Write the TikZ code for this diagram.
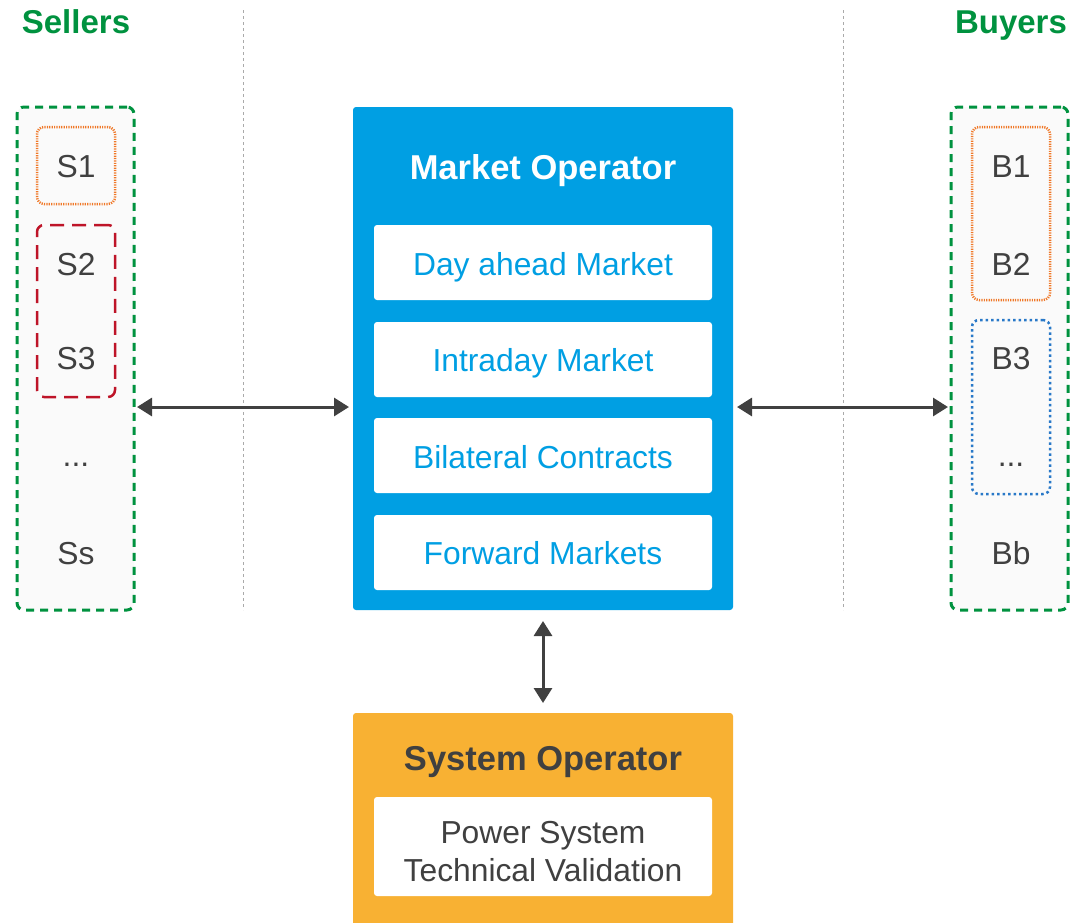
\documentclass[tikz,border=0pt]{standalone}
\usepackage{fontspec}
\setmainfont{Liberation Sans}
\usetikzlibrary{arrows.meta}
\definecolor{mogreen}{RGB}{0,146,63}
\definecolor{moblue}{RGB}{0,159,227}
\definecolor{soorange}{RGB}{248,177,51}
\definecolor{txtgray}{RGB}{64,64,64}
\definecolor{dotorange}{RGB}{240,120,40}
\definecolor{dashred}{RGB}{190,20,40}
\definecolor{dotblue}{RGB}{40,120,200}
\definecolor{sepgray}{RGB}{170,170,170}
\definecolor{colfill}{RGB}{250,250,250}
\begin{document}
\begin{tikzpicture}[x=1pt,y=-1pt,
  colbox/.style={draw=mogreen, line width=3pt, dash pattern=on 8pt off 6pt, rounded corners=7pt, fill=colfill, minimum width=117pt, minimum height=503pt, inner sep=0pt, outer sep=0pt},
  orgrp/.style={draw=dotorange, line width=2.5pt, dash pattern=on 1.2pt off 1.2pt, rounded corners=7pt, minimum width=78pt, inner sep=0pt, outer sep=0pt},
  redgrp/.style={draw=dashred, line width=2.5pt, dash pattern=on 14pt off 8pt, rounded corners=7pt, minimum width=78pt, inner sep=0pt, outer sep=0pt},
  bluegrp/.style={draw=dotblue, line width=2.5pt, dash pattern=on 2.5pt off 3pt, rounded corners=7pt, minimum width=78pt, inner sep=0pt, outer sep=0pt},
  lbl/.style={font=\fontsize{31.8}{31.8}\selectfont, text=txtgray, anchor=base, inner sep=0pt},
  hdr/.style={font=\bfseries\fontsize{33}{33}\selectfont, text=mogreen, anchor=base, inner sep=0pt},
  opbox/.style={rounded corners=3pt, minimum width=380pt, inner sep=0pt, outer sep=0pt},
  subbox/.style={fill=white, rounded corners=3pt, minimum width=338pt, inner sep=0pt, outer sep=0pt},
  subtxt/.style={font=\fontsize{31.8}{31.8}\selectfont, text=moblue, anchor=base, inner sep=0pt},
  ttl/.style={font=\bfseries\fontsize{34.5}{34.5}\selectfont, anchor=base, inner sep=0pt},
  sep/.style={draw=sepgray, line width=1pt, dash pattern=on 3pt off 3pt},
  arr/.style={draw=txtgray, line width=3pt, {Triangle[length=15pt,width=18pt]}-{Triangle[length=15pt,width=18pt]}}
]
\useasboundingbox (0,0) rectangle (1074,922);

% headers
\node[hdr] (sellhdr) at (76,33) {Sellers};
\node[hdr] (buyhdr) at (1011,33) {Buyers};

% separators
\coordinate (sepL1) at (243,10);
\coordinate (sepL2) at (243,610);
\coordinate (sepR1) at (843,10);
\coordinate (sepR2) at (843,610);
\draw[sep] (sepL1) -- (sepL2);
\draw[sep] (sepR1) -- (sepR2);

% sellers column
\node[colbox] (sellers) at (75.5,358.5) {};
\node[orgrp, minimum height=77pt] (gS1) at (76,165.5) {};
\node[redgrp, minimum height=172pt] (gS23) at (76,311) {};
\node[lbl] (s1) at (76,177.5) {S1};
\node[lbl] (s2) at (76,275.5) {S2};
\node[lbl] (s3) at (76,369.5) {S3};
\node[lbl] (sd) at (76,466) {...};
\node[lbl] (ss) at (76,564.5) {Ss};

% buyers column
\node[colbox] (buyers) at (1009.5,358.5) {};
\node[orgrp, minimum height=173pt] (gB12) at (1011,213.5) {};
\node[bluegrp, minimum height=174pt] (gB3) at (1011,407) {};
\node[lbl] (b1) at (1011,177.5) {B1};
\node[lbl] (b2) at (1011,275.5) {B2};
\node[lbl] (b3) at (1011,369.5) {B3};
\node[lbl] (bd) at (1011,466) {...};
\node[lbl] (bb) at (1011,564.5) {Bb};

% market operator
\node[opbox, fill=moblue, minimum height=503pt] (mo) at (543,358.5) {};
\node[ttl, text=white] (motitle) at (543,179) {Market Operator};
\node[subbox, minimum height=75pt] (dam) at (543,262.5) {};
\node[subbox, minimum height=75pt] (idm) at (543,359.5) {};
\node[subbox, minimum height=75pt] (bil) at (543,455.5) {};
\node[subbox, minimum height=75pt] (fwd) at (543,552.5) {};
\node[subtxt] at (543,275.5) {Day ahead Market};
\node[subtxt] at (543,371.5) {Intraday Market};
\node[subtxt] at (543,468.5) {Bilateral Contracts};
\node[subtxt] at (543,564.5) {Forward Markets};

% system operator
\node[opbox, fill=soorange, minimum height=222pt] (so) at (543,824) {};
\node[ttl, text=txtgray] (sotitle) at (543,770) {System Operator};
\node[subbox, minimum height=99pt] (psv) at (543,846.5) {};
\node[font=\fontsize{31.8}{38}\selectfont, text=txtgray, align=center, inner sep=0pt] (psvtxt) at ([yshift=-5pt]psv.center) {Power System\\Technical Validation};

% connectors
\draw[arr, shorten <=3pt, shorten >=4pt] ([yshift=-48.5pt]sellers.east) -- ([yshift=-48.5pt]mo.west);
\draw[arr, shorten <=4pt, shorten >=3pt] ([yshift=-48.5pt]mo.east) -- ([yshift=-48.5pt]buyers.west);
\draw[arr, shorten <=11pt, shorten >=10pt] (mo.south) -- (so.north);
\end{tikzpicture}
\end{document}
